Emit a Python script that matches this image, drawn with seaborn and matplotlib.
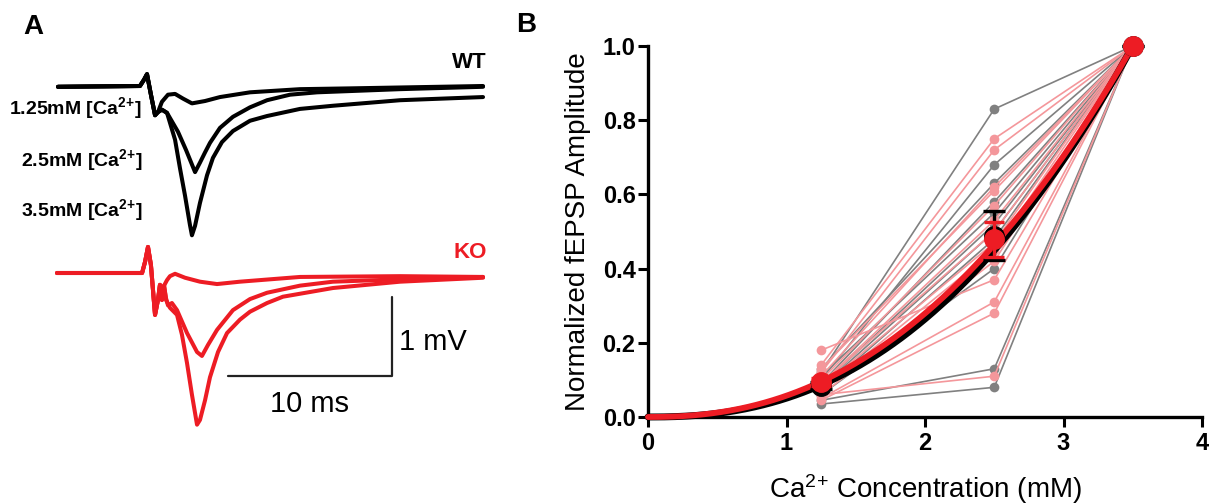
import numpy as np
import pandas as pd
import matplotlib
matplotlib.use("Agg")
import matplotlib.pyplot as plt
import seaborn as sns

# ---------------- Panel A: example fEPSP traces (time in ms, voltage in mV) -------------
wt_art_t = [-5.43, -0.43, -0.18, 0.0, 0.24, 0.49, 0.67]
wt_art_v = [-0.01, 0.0, 0.08, 0.15, -0.11, -0.37, -0.33]
wt125_t = [0.91, 1.28, 1.71, 2.20, 2.74, 3.54, 4.45, 6.28, 9.33, 12.38, 20.49]
wt125_v = [-0.20, -0.11, -0.10, -0.16, -0.22, -0.19, -0.14, -0.08, -0.04, -0.03, 0.0]
wt25_t = [0.91, 1.22, 1.89, 2.38, 2.93, 3.23, 3.54, 3.84, 4.45, 5.24, 6.28, 7.32, 8.72, 10.37, 15.43, 20.49]
wt25_v = [-0.30, -0.34, -0.58, -0.81, -1.09, -0.97, -0.84, -0.72, -0.53, -0.39, -0.27, -0.18, -0.11, -0.08, -0.04, -0.01]
wt35_t = [0.91, 1.22, 1.71, 2.01, 2.32, 2.62, 2.74, 2.93, 3.23, 3.66, 4.02, 4.57, 5.24, 6.28, 7.32, 9.33, 11.34, 15.43, 20.49]
wt35_v = [-0.30, -0.34, -0.68, -1.04, -1.39, -1.76, -1.89, -1.77, -1.48, -1.13, -0.91, -0.71, -0.57, -0.44, -0.38, -0.29, -0.25, -0.18, -0.14]

ko_art_t = [-5.49, -0.30, -0.12, 0.06, 0.24, 0.49, 0.67, 0.79, 0.91, 1.04]
ko_art_v = [0.0, 0.0, 0.14, 0.33, 0.10, -0.53, -0.34, -0.15, -0.34, -0.16]
ko125_t = [1.22, 1.40, 1.71, 2.32, 3.23, 4.27, 5.67, 7.50, 9.33, 15.43, 20.49]
ko125_v = [-0.09, -0.04, -0.01, -0.06, -0.11, -0.14, -0.11, -0.08, -0.05, -0.04, -0.05]
ko25_t = [1.16, 1.28, 1.52, 1.83, 2.44, 3.05, 3.35, 3.72, 4.27, 5.24, 6.28, 7.32, 9.33, 11.34, 15.43, 20.49]
ko25_v = [-0.32, -0.41, -0.38, -0.47, -0.76, -1.00, -1.05, -0.91, -0.72, -0.47, -0.33, -0.25, -0.16, -0.11, -0.08, -0.05]
ko35_t = [1.16, 1.40, 1.83, 2.13, 2.44, 2.74, 3.05, 3.23, 3.54, 3.84, 4.33, 4.88, 5.67, 6.28, 7.32, 8.29, 11.34, 15.43, 20.49]
ko35_v = [-0.34, -0.44, -0.53, -0.78, -1.14, -1.54, -1.92, -1.86, -1.61, -1.32, -1.00, -0.76, -0.59, -0.49, -0.38, -0.30, -0.19, -0.11, -0.06]

trace_labels = ["1.25mM [Ca$^{\\mathbf{2}}$$^{\\mathbf{+}}$]",
                "2.5mM [Ca$^{\\mathbf{2}}$$^{\\mathbf{+}}$]",
                "3.5mM [Ca$^{\\mathbf{2}}$$^{\\mathbf{+}}$]"]

# ---------------- Panel B: normalized fEPSP amplitude per slice -------------
conc = [1.25, 2.5, 3.5]
wt_125 = [0.12, 0.10, 0.13, 0.09, 0.11, 0.085, 0.08, 0.07, 0.06, 0.045, 0.035]
wt_250 = [0.83, 0.68, 0.63, 0.58, 0.55, 0.52, 0.50, 0.48, 0.40, 0.13, 0.08]
wt_350 = [1.0, 1.0, 1.0, 1.0, 1.0, 1.0, 1.0, 1.0, 1.0, 1.0, 1.0]
ko_125 = [0.14, 0.12, 0.11, 0.13, 0.10, 0.09, 0.09, 0.08, 0.07, 0.18, 0.06, 0.05, 0.045, 0.06]
ko_250 = [0.75, 0.72, 0.62, 0.61, 0.57, 0.53, 0.50, 0.47, 0.45, 0.37, 0.42, 0.31, 0.28, 0.11]
ko_350 = [1.0, 1.0, 1.0, 1.0, 1.0, 1.0, 1.0, 1.0, 1.0, 1.0, 1.0, 1.0, 1.0, 1.0]
x_ticks = [0, 1, 2, 3, 4]
y_ticks = [0.0, 0.2, 0.4, 0.6, 0.8, 1.0]

RED = "#ED1C24"
PINK = "#F4979B"
GRAY = "#808080"

sns.set_style("ticks")
plt.rcParams["font.family"] = ["Liberation Sans", "DejaVu Sans"]
plt.rcParams["mathtext.fontset"] = "custom"
plt.rcParams["mathtext.rm"] = "Liberation Sans"
plt.rcParams["mathtext.bf"] = "Liberation Sans:bold"
plt.rcParams["mathtext.it"] = "Liberation Sans:italic"
plt.rcParams["mathtext.default"] = "rm"
for k in ["text.color", "axes.labelcolor", "xtick.color", "ytick.color", "axes.edgecolor"]:
    plt.rcParams[k] = "black"

W, H = 1216, 504
fig = plt.figure(figsize=(W / 100, H / 100), dpi=100)

def fx(px):
    return px / W

def fy(py):
    return 1 - py / H

# ---- Panel A ----
axA = fig.add_axes([0, 0, 500 / W, 1])
axA.set_axis_off()
axA.set_xlim(-147 / 16.4, (500 - 147) / 16.4)
axA.set_ylim((86 - 504) / 79, 86 / 79)
ko_offset = -(273 - 86) / 79

for t, v in [(wt125_t, wt125_v), (wt25_t, wt25_v), (wt35_t, wt35_v)]:
    axA.plot(wt_art_t + t, wt_art_v + v, color="black", lw=2.9, solid_joinstyle="round")
for t, v in [(ko125_t, ko125_v), (ko25_t, ko25_v), (ko35_t, ko35_v)]:
    vv = np.array(ko_art_v + v) + ko_offset
    axA.plot(ko_art_t + t, vv, color=RED, lw=2.9, solid_joinstyle="round")

# scale bar: 10 ms x 1 mV
sb_t0, sb_v0 = (228 - 147) / 16.4, (86 - 376) / 79
axA.plot([sb_t0, sb_t0 + 10, sb_t0 + 10], [sb_v0, sb_v0, sb_v0 + 1], color="#222222", lw=1.6)
axA.text(sb_t0 + 10.45, sb_v0 + 0.43, "1 mV", fontsize=21, ha="left", va="center")
axA.text(sb_t0 + 5, sb_v0 - 0.36, "10 ms", fontsize=21, ha="center", va="center")

fig.text(fx(487), fy(62), "WT", fontsize=16, fontweight="bold", ha="right", va="center")
fig.text(fx(487), fy(253), "KO", fontsize=16, fontweight="bold", ha="right", va="center", color=RED)
fig.text(fx(9), fy(108), trace_labels[0], fontsize=14, fontweight="bold", ha="left", va="center")
fig.text(fx(21), fy(160), trace_labels[1], fontsize=14, fontweight="bold", ha="left", va="center")
fig.text(fx(21), fy(210), trace_labels[2], fontsize=14, fontweight="bold", ha="left", va="center")
fig.text(fx(23), fy(27), "A", fontsize=20, fontweight="bold", ha="left", va="center")
fig.text(fx(516), fy(25), "B", fontsize=20, fontweight="bold", ha="left", va="center")

# ---- Panel B ----
rows = []
for geno, vals in [("WT", (wt_125, wt_250, wt_350)), ("KO", (ko_125, ko_250, ko_350))]:
    for i in range(len(vals[0])):
        for c, arr in zip(conc, vals):
            rows.append({"geno": geno, "cell": f"{geno}{i}", "conc": c, "amp": arr[i]})
df = pd.DataFrame(rows)

axB = fig.add_axes([fx(648), 1 - 417 / H, (1202 - 648) / W, (417 - 46) / H])
sns.lineplot(data=df, x="conc", y="amp", hue="geno", hue_order=["WT", "KO"],
             palette={"WT": GRAY, "KO": PINK}, units="cell", estimator=None,
             marker="o", markersize=7, markeredgewidth=0, linewidth=1.2,
             legend=False, ax=axB, zorder=2)

stats = df.groupby(["geno", "conc"])["amp"].agg(["mean", "sem"]).reset_index()
xs = np.linspace(0, 3.5, 300)
for geno, col, lw in [("WT", "black", 5.0), ("KO", RED, 4.2)]:
    s = stats[stats.geno == geno]
    sub = s[s.conc < 3.5]
    lx = np.log(sub.conc.values / 3.5)
    n = np.sum(np.log(sub["mean"].values) * lx) / np.sum(lx ** 2)
    axB.plot(xs, (xs / 3.5) ** n, color=col, lw=lw, zorder=3, clip_on=False,
             solid_capstyle="round")

for geno, col, cap in [("WT", "black", 8), ("KO", RED, 7)]:
    s = stats[stats.geno == geno]
    axB.errorbar(s.conc, s["mean"], yerr=s["sem"].fillna(0), fmt="o", color=col,
                 markersize=14, capsize=cap, elinewidth=2.4, capthick=2.4,
                 zorder=4 if geno == "WT" else 5, clip_on=False)

axB.set_xlim(0, 4)
axB.set_ylim(0, 1.0)
axB.set_xticks(x_ticks)
axB.set_yticks(y_ticks)
axB.set_xticklabels([str(v) for v in x_ticks])
axB.set_yticklabels([f"{v:.1f}" for v in y_ticks])
for lab in axB.get_xticklabels() + axB.get_yticklabels():
    lab.set_fontweight("bold")
    lab.set_fontsize(17)
axB.tick_params(axis="both", length=7, width=2.2, color="black", pad=2)
axB.tick_params(axis="x", pad=4)
for side in ["left", "bottom"]:
    axB.spines[side].set_linewidth(2.4)
    axB.spines[side].set_color("black")
sns.despine(ax=axB)
axB.set_xlabel("Ca$^{2}$$^{+}$ Concentration (mM)", fontsize=20, labelpad=12)
axB.set_ylabel("Normalized fEPSP Amplitude", fontsize=20, labelpad=8)

fig.savefig("out.png", dpi=100)
